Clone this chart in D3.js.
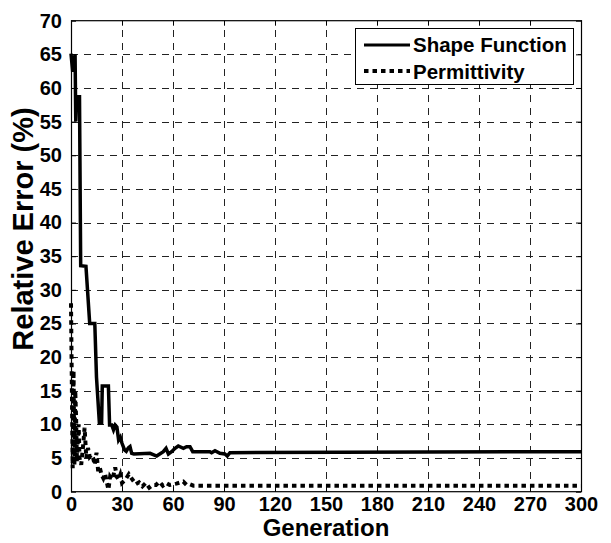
<!DOCTYPE html>
<html>
<head>
<meta charset="utf-8">
<script src="https://cdn.jsdelivr.net/npm/d3@7/dist/d3.min.js"></script>
<style>
html,body{margin:0;padding:0;background:#fff;}
svg text{font-family:"Liberation Sans",Arial,sans-serif;font-weight:bold;fill:#000;}
</style>
</head>
<body>
<svg id="chart" width="611" height="543"></svg>
<script>
// ---- data ----
const xTicks = [0,30,60,90,120,150,180,210,240,270,300];
const yTicks = [0,5,10,15,20,25,30,35,40,45,50,55,60,65,70];
const seriesNames = ["Shape Function","Permittivity"];
const shapeGen = [0,1,2.4,2.8,3.3,5,5.7,8.8,11,14,15,16.7,18,18.4,22,22.7,24,25,26,27,28,29,30,31.5,32.5,33.7,34.7,35.7,37,46.5,50.4,54.3,55.9,57.3,59.2,61.2,63.1,66.1,68,70,71.6,81.7,82.7,84.7,87.6,90.5,91.9,93.5,300];
const shapeVal = [65.1,62.4,65,55,58.7,58.7,33.6,33.5,25,25,17,10.2,10.2,15.7,15.7,9.9,9.9,9.2,9.9,9.6,7.7,8.1,7.2,6.2,6.0,6.5,6.7,5.7,5.6,5.7,5.3,5.95,6.45,5.6,5.95,6.45,6.79,6.45,6.69,6.69,5.95,5.95,5.8,6.1,5.7,5.6,5.3,5.8,5.95];
const permGen = [0,1,1.5,2,2.5,3,3.5,4.5,5,6,7,8,9,10,11,12,13,14,15,16,17,18,19,20,21,22,23,24,25,26,27,28,29,30,32,34,35,37,38,40,42,44,46,48,50,52,54,56,58,62,66,68,70,72,300];
const permVal = [28,3.5,18,4,15,11,4.5,10,5,4,6.5,9.5,5,6.5,5.2,5.5,5,4,5.8,3,3.5,2.5,2,2.7,1.5,0.3,2.2,1.8,2.5,3.6,2.2,1.8,2.5,1.3,1.8,2.6,2.2,1.5,1.1,1.4,0.8,1.3,0.6,1,1,1.5,0.9,1.3,1,1.2,1.5,1,1.1,0.9,0.9];
const xTitle = "Generation";
const yTitle = "Relative Error (%)";

// ---- layout ----
const L = 71, R = 581, T = 20.7, B = 491.7;
const svg = d3.select("#chart");
const x = d3.scaleLinear().domain([0,300]).range([L,R]);
const y = d3.scaleLinear().domain([0,70]).range([B,T]);

// grid
const grid = svg.append("g").attr("stroke","#222").attr("stroke-width",1).attr("stroke-dasharray","7,6").attr("shape-rendering","crispEdges");
grid.selectAll("line.v").data(xTicks.slice(1,-1)).join("line")
  .attr("x1",d=>Math.round(x(d))+0.5).attr("x2",d=>Math.round(x(d))+0.5).attr("y1",B).attr("y2",T);
grid.selectAll("line.h").data(yTicks.slice(1,-1)).join("line")
  .attr("y1",d=>Math.round(y(d))+0.5).attr("y2",d=>Math.round(y(d))+0.5).attr("x1",L).attr("x2",R);

// axes
const fs = 20;
const xAxisB = d3.axisBottom(x).tickValues(xTicks).tickSizeInner(-5).tickSizeOuter(0).tickPadding(5);
const gx = svg.append("g").attr("transform",`translate(0,${B})`).call(xAxisB);
gx.select(".domain").remove();
gx.selectAll("text").attr("font-size",fs).attr("font-family","Liberation Sans, Arial").attr("font-weight","bold").attr("fill","#000");
const xAxisT = d3.axisTop(x).tickValues(xTicks).tickSizeInner(-5).tickSizeOuter(0).tickFormat("");
const gxt = svg.append("g").attr("transform",`translate(0,${T})`).call(xAxisT);
gxt.select(".domain").remove();

const yAxisL = d3.axisLeft(y).tickValues(yTicks).tickSizeInner(-5).tickSizeOuter(0).tickPadding(9);
const gy = svg.append("g").attr("transform",`translate(${L},0)`).call(yAxisL);
gy.select(".domain").remove();
gy.selectAll("text").attr("font-size",fs).attr("font-family","Liberation Sans, Arial").attr("font-weight","bold").attr("fill","#000");
const yAxisR = d3.axisRight(y).tickValues(yTicks).tickSizeInner(-5).tickSizeOuter(0).tickFormat("");
const gyr = svg.append("g").attr("transform",`translate(${R},0)`).call(yAxisR);
gyr.select(".domain").remove();
svg.selectAll(".tick line").attr("stroke","#000");

// lines
const line = d3.line().x(d=>x(d[0])).y(d=>y(d[1]));
const shapeData = shapeGen.map((g,i)=>[g,shapeVal[i]]);
const permData = permGen.map((g,i)=>[g,permVal[i]]);
svg.append("path").datum(permData).attr("d",line).attr("fill","none").attr("stroke","#000")
  .attr("stroke-width",4).attr("stroke-dasharray","4.5,4");
svg.append("path").datum(shapeData).attr("d",line).attr("fill","none").attr("stroke","#000")
  .attr("stroke-width",3.5).attr("stroke-linejoin","miter");

// box
svg.append("rect").attr("x",L+0.5).attr("y",T).attr("width",R-L).attr("height",B-T)
  .attr("fill","none").attr("stroke","#000").attr("stroke-width",1.2);

// legend
const lg = svg.append("g");
lg.append("rect").attr("x",355.5).attr("y",28.5).attr("width",218).attr("height",56).attr("fill","#fff").attr("stroke","#000").attr("stroke-width",1);
lg.append("line").attr("x1",364).attr("x2",410).attr("y1",45).attr("y2",45).attr("stroke","#000").attr("stroke-width",3);
lg.append("line").attr("x1",364).attr("x2",410).attr("y1",71).attr("y2",71).attr("stroke","#000").attr("stroke-width",4).attr("stroke-dasharray","4.5,4");
lg.append("text").attr("x",413).attr("y",52).attr("font-size",20.5).text(seriesNames[0]);
lg.append("text").attr("x",413).attr("y",78.5).attr("font-size",20.5).text(seriesNames[1]);

// titles
svg.append("text").attr("x",(L+R)/2).attr("y",536).attr("text-anchor","middle").attr("font-size",24).text(xTitle);
svg.append("text").attr("transform",`translate(33,229) rotate(-90)`).attr("text-anchor","middle").attr("font-size",29).text(yTitle);
</script>
</body>
</html>
